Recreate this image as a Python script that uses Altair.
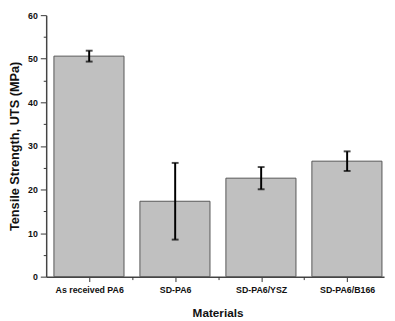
import json
import altair as alt
import pandas as pd

categories = ["As received PA6", "SD-PA6", "SD-PA6/YSZ", "SD-PA6/B166"]
means = [50.6, 17.3, 22.6, 26.5]
errors = [1.25, 8.8, 2.55, 2.25]

BAND = 87.8
W = 345
H = 267

df = pd.DataFrame({
    "Material": categories,
    "value": means,
    "err": errors,
})
df["i"] = range(len(df))
df["x0"] = df["i"] + 0.09
df["x1"] = df["i"] + 0.905
df["xc"] = df["i"] + 0.5
df["lo"] = df["value"] - df["err"]
df["hi"] = df["value"] + df["err"]
df["base"] = 0

FONT = "Liberation Sans"
xscale = alt.Scale(domain=[0, W / BAND], nice=False, zero=False)
yscale = alt.Scale(domain=[0, 60], nice=False)

label_expr = json.dumps(categories) + "[floor(datum.value)]"

x_main = alt.Axis(
    orient="bottom",
    values=[i + 0.5 for i in range(len(categories))],
    labelExpr=label_expr,
    title="Materials",
    titleFont=FONT, titleFontSize=12, titleFontWeight="bold", titleColor="#111",
    titleX=175, titleY=37, titleBaseline="middle", titleAlign="center",
    labelFont=FONT, labelFontSize=9, labelFontWeight="bold", labelColor="#111",
    labelPadding=4, tickSize=5, tickColor="#333",
    domain=True, domainColor="#444", domainWidth=1.5,
    grid=False, labelAngle=0,
)
x_minor = alt.Axis(
    orient="bottom", values=[1, 2, 3], labels=False, title=None,
    tickSize=3, tickColor="#333", domain=False, grid=False,
)
y_main = alt.Axis(
    orient="left",
    values=list(range(0, 61, 10)),
    title="Tensile Strength, UTS (MPa)",
    titleFont=FONT, titleFontSize=13, titleFontWeight="bold", titleColor="#111",
    titleAngle=-90, titleX=-32, titleY=H / 2, titleAlign="center", titleBaseline="middle",
    labelFont=FONT, labelFontSize=9, labelFontWeight="bold", labelColor="#111",
    labelPadding=3, tickSize=6, tickColor="#333",
    domain=True, domainColor="#444", domainWidth=1.5, grid=False,
)
y_minor = alt.Axis(
    orient="left", values=list(range(5, 60, 10)), labels=False, title=None,
    tickSize=3, tickColor="#333", domain=False, grid=False,
)

base = alt.Chart(df)

bars = base.mark_bar(fill="#c0c0c0", stroke="#555555", strokeWidth=1).encode(
    x=alt.X("x0:Q", scale=xscale, axis=x_main),
    x2="x1:Q",
    y=alt.Y("value:Q", scale=yscale, axis=y_main),
    y2="base:Q",
)

err_rule = base.mark_rule(color="black", strokeWidth=2).encode(
    x=alt.X("xc:Q", scale=xscale, axis=x_minor),
    y=alt.Y("lo:Q", scale=yscale, axis=y_minor),
    y2="hi:Q",
)

cap_lo = base.mark_tick(color="black", thickness=2, size=7, orient="horizontal").encode(
    x=alt.X("xc:Q", scale=xscale, axis=None),
    y=alt.Y("lo:Q", scale=yscale, axis=None),
)
cap_hi = base.mark_tick(color="black", thickness=2, size=7, orient="horizontal").encode(
    x=alt.X("xc:Q", scale=xscale, axis=None),
    y=alt.Y("hi:Q", scale=yscale, axis=None),
)

chart = (
    alt.layer(bars, err_rule, cap_lo, cap_hi)
    .resolve_axis(x="independent", y="independent")
    .properties(
        width=W, height=H,
        autosize=alt.AutoSizeParams(type="none"),
        padding={"left": 39, "top": 4, "right": 3, "bottom": 44},
        background="white",
    )
    .configure_view(stroke=None)
)

chart.save("out.html", embed_options={"renderer": "svg", "actions": False})
